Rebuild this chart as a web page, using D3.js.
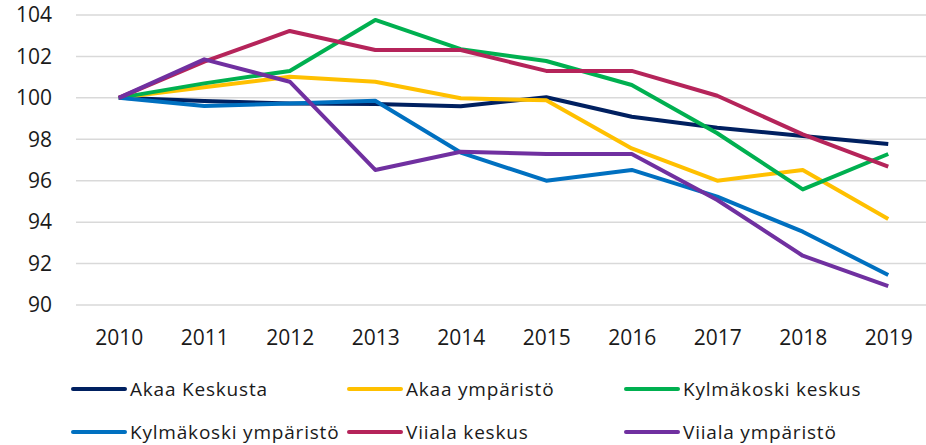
<!DOCTYPE html>
<html><head><meta charset="utf-8">
<script src="https://cdn.jsdelivr.net/npm/d3@7"></script>
<style>
html,body{margin:0;padding:0;background:#fff;}
svg{display:block;font-family:"Open Sans",sans-serif;}
</style></head>
<body><svg id="c" width="926" height="445"></svg>
<script>
const years = ["2010","2011","2012","2013","2014","2015","2016","2017","2018","2019"];
const seriesNames = ["Akaa Keskusta","Akaa ympäristö","Kylmäkoski keskus","Kylmäkoski ympäristö","Viiala keskus","Viiala ympäristö"];
const seriesColors = ["#002060","#FFC000","#00B050","#0070C0","#B5245A","#7030A0"];
const akaaKeskusta = [100,99.85,99.73,99.7,99.6,100.03,99.09,98.56,98.16,97.77];
const akaaYmparisto = [100,100.51,101.02,100.78,99.98,99.88,97.56,96.0,96.52,94.15];
const kylmakoskiKeskus = [100,100.7,101.3,103.76,102.35,101.78,100.62,98.29,95.58,97.29];
const kylmakoskiYmparisto = [100,99.61,99.73,99.86,97.36,96.0,96.52,95.23,93.54,91.45];
const viialaKeskus = [100,101.75,103.23,102.31,102.31,101.3,101.3,100.1,98.24,96.68];
const viialaYmparisto = [100,101.86,100.78,96.52,97.4,97.29,97.29,95.07,92.38,90.91];
const yTicks = [90,92,94,96,98,100,102,104];

const seriesValues = [akaaKeskusta,akaaYmparisto,kylmakoskiKeskus,kylmakoskiYmparisto,viialaKeskus,viialaYmparisto];

const svg = d3.select("#c");
const pLeft = 76, pRight = 931, pTop = 15, pBottom = 305;
const x = d3.scalePoint().domain(years).range([pLeft, pRight]).padding(0.5);
const y = d3.scaleLinear().domain([90,104]).range([pBottom, pTop]);

// gridlines
svg.append("g").selectAll("line").data(yTicks).join("line")
  .attr("x1", pLeft).attr("x2", pRight)
  .attr("y1", d => y(d)).attr("y2", d => y(d))
  .attr("stroke", "#d9d9d9").attr("stroke-width", 1.5);

// y axis labels
const yAxis = d3.axisLeft(y).tickValues(yTicks).tickSize(0).tickPadding(0);
const yg = svg.append("g").attr("transform", `translate(${pLeft-24},0)`).call(yAxis);
yg.select(".domain").remove();
yg.selectAll("text").attr("font-size", 21).attr("fill", "#1a1a1a")
  .attr("font-family", "Open Sans, sans-serif");

// x axis labels
const xAxis = d3.axisBottom(x).tickSize(0).tickPadding(0);
const xg = svg.append("g").attr("transform", `translate(0,${pBottom+25})`).call(xAxis);
xg.select(".domain").remove();
xg.selectAll("text").attr("font-size", 21).attr("fill", "#1a1a1a")
  .attr("font-family", "Open Sans, sans-serif");

// lines
const line = d3.line().x((d,i) => x(years[i])).y(d => y(d));
svg.append("g").selectAll("path").data(seriesValues).join("path")
  .attr("d", d => line(d))
  .attr("fill", "none")
  .attr("stroke", (d,i) => seriesColors[i])
  .attr("stroke-width", 4)
  .attr("stroke-linejoin", "round");

// legend
const legX = [73, 349, 626];
const legY = [389, 432];
const lg = svg.append("g").selectAll("g").data(seriesNames).join("g")
  .attr("transform", (d,i) => `translate(${legX[i%3]},${legY[Math.floor(i/3)]})`);
lg.append("line").attr("x1", 0).attr("x2", 52).attr("y1", 0).attr("y2", 0)
  .attr("stroke", (d,i) => seriesColors[i]).attr("stroke-width", 4).attr("stroke-linecap","round");
lg.append("text").attr("x", 57).attr("y", 7)
  .attr("font-size", 19).attr("letter-spacing", 0.8).attr("fill", "#1a1a1a").text(d => d);
</script></body></html>
